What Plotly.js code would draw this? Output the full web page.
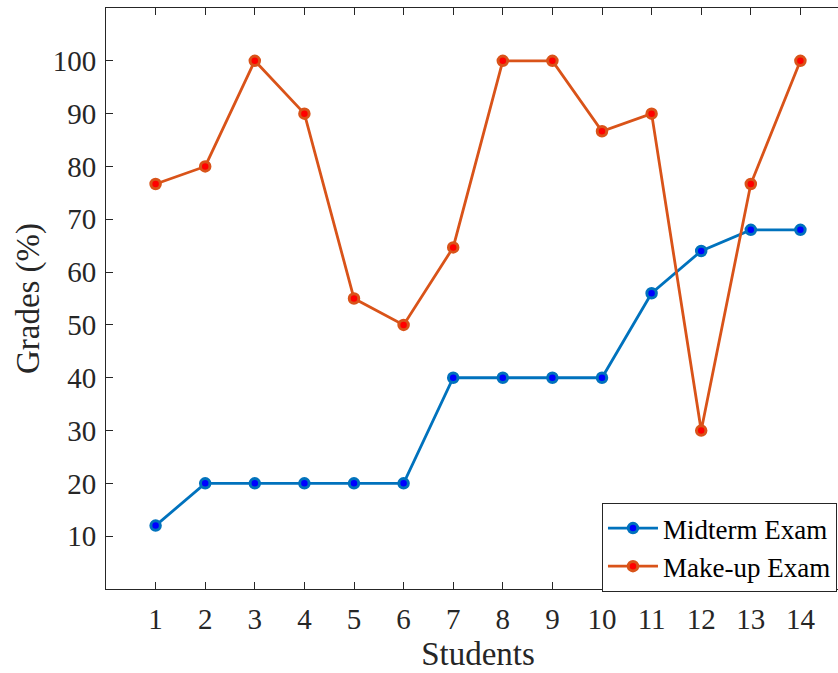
<!DOCTYPE html>
<html>
<head>
<meta charset="utf-8">
<script src="https://cdn.plot.ly/plotly-3.0.1.min.js"></script>
<style>
html,body{margin:0;padding:0;overflow:hidden;background:#fff;width:838px;height:673px;}
#chart{width:852px;height:673px;}
</style>
</head>
<body>
<div id="chart"></div>
<script>
const students = [1,2,3,4,5,6,7,8,9,10,11,12,13,14];
const midterm = [12,20,20,20,20,20,40,40,40,40,56,64,68,68];
const makeup = [76.67,80,100,90,55,50,64.67,100,100,86.67,90,30,76.67,100];
const xTicks = [1,2,3,4,5,6,7,8,9,10,11,12,13,14];
const yTicks = [10,20,30,40,50,60,70,80,90,100];

const font = 'Liberation Serif';

const traces = [
  {x: students, y: midterm, name: 'Midterm Exam', type: 'scatter', mode: 'lines+markers',
   line: {color: '#0072BD', width: 2.8},
   marker: {size: 9.5, color: '#0000FF', line: {color: '#0072BD', width: 3}}},
  {x: students, y: makeup, name: 'Make-up Exam', type: 'scatter', mode: 'lines+markers',
   line: {color: '#D95319', width: 2.8},
   marker: {size: 9.5, color: '#FF0000', line: {color: '#D95319', width: 3}}}
];

const axisCommon = {
  showgrid: false, zeroline: false, showline: true, linecolor: '#262626', linewidth: 1,
  ticks: 'inside', ticklen: 7, tickwidth: 1, tickcolor: '#262626', mirror: 'ticks',
  tickfont: {family: font, size: 29, color: '#262626'}
};

const layout = {
  width: 852, height: 673,
  margin: {l: 106, r: 2, t: 8, b: 84},
  paper_bgcolor: '#fff', plot_bgcolor: '#fff',
  showlegend: true,
  xaxis: Object.assign({}, axisCommon, {
    range: [0, 15], tickmode: 'array', tickvals: xTicks, ticktext: xTicks.map(String),
    ticklabelstandoff: 4,
    title: {text: 'Students', font: {family: font, size: 33, color: '#262626'}, standoff: 8}
  }),
  yaxis: Object.assign({}, axisCommon, {
    range: [0, 110], tickmode: 'array', tickvals: yTicks, ticktext: yTicks.map(String),
    ticklabelstandoff: 3,
    title: {text: 'Grades (%)', font: {family: font, size: 33, color: '#262626'}, standoff: 3}
  }),
  legend: {
    x: 0.9825, xanchor: 'right', y: 0.148, yanchor: 'top',
    bgcolor: '#fff', bordercolor: '#262626', borderwidth: 1,
    font: {family: font, size: 27, color: '#000'},
    itemwidth: 50,
    tracegroupgap: 0
  }
};

Plotly.newPlot('chart', traces, layout, {displayModeBar: false, staticPlot: true});
</script>
</body>
</html>
